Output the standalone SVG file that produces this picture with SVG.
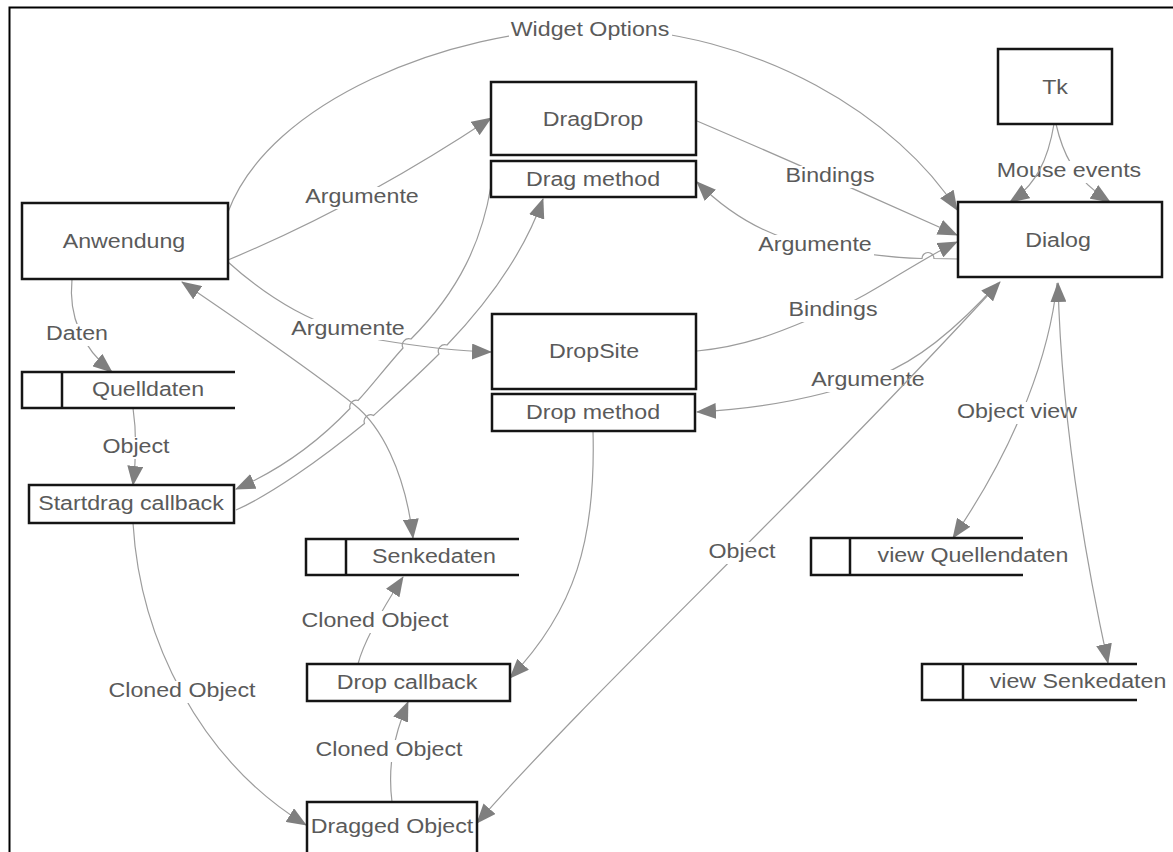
<svg xmlns="http://www.w3.org/2000/svg" width="1173" height="852" viewBox="0 0 1173 852">
<defs>
<marker id="ah" markerUnits="userSpaceOnUse" viewBox="0 0 20 16" markerWidth="20" markerHeight="16" refX="19" refY="8" orient="auto-start-reverse">
<path d="M0,0 L20,8 L0,16 z" fill="#7f7f7f"/>
</marker>
<style>
.c{fill:none;stroke:#9c9c9c;stroke-width:1.2}
.e{marker-end:url(#ah)}
.s{marker-start:url(#ah)}
.t{font-family:"Liberation Sans",Arial,sans-serif;font-size:19.5px;fill:#5a5a5a;text-anchor:middle}
.bg{fill:#fff}
.n{fill:#fff;stroke:#151515;stroke-width:2.5}
.ds{fill:none;stroke:#151515;stroke-width:2.5}
.fr{fill:none;stroke:#000;stroke-width:2}
</style>
</defs>
<rect width="1173" height="852" fill="#fff"/>
<path class="fr" d="M9.5,852 V7.5 H1173"/>

<g id="connectors">
<path class="c e" d="M228,212 C270,100 450,30 590,28 C760,28 900,120 957,210"/>
<rect class="bg" x="509" y="20" width="163" height="22"/>
<text class="t" transform="matrix(1.19 0 0 1 590 36)">Widget Options</text>

<path class="c e" d="M228,260 Q360,205 491,118"/>
<rect class="bg" x="303" y="187" width="118" height="22"/>
<text class="t" transform="matrix(1.19 0 0 1 362 203)">Argumente</text>

<path class="c e" d="M228,262 C268,298 315,328 380,340 C410,345 450,351 491,352"/>
<rect class="bg" x="289" y="319" width="118" height="21"/>
<text class="t" transform="matrix(1.19 0 0 1 348 335)">Argumente</text>

<path class="c e" d="M72,279 C68,320 85,350 112,372"/>
<rect class="bg" x="44" y="324" width="66" height="22"/>
<text class="t" transform="matrix(1.19 0 0 1 77 340)">Daten</text>

<path class="c e" d="M133,408 C137,435 136,460 133,485"/>
<rect class="bg" x="100" y="437" width="72" height="22"/>
<text class="t" transform="matrix(1.19 0 0 1 136 453)">Object</text>

<path class="c s e" d="M182,282 C260,335 330,385 354,404.5 C380,425 405,470 413,538"/>

<path class="c e" d="M491,186 C482,240 460,290 411,339 A6.5,6.5 0 0 0 403,348 C385,368 370,388 358,400.5 A6.5,6.5 0 0 0 350,408.5 C320,440 280,470 236,489"/>
<path class="c s" d="M543,199 C525,250 490,300 447,345 A6.5,6.5 0 0 0 439,354 C415,378 385,405 373.5,415.5 A6.5,6.5 0 0 0 364.5,423.5 C320,460 270,495 236,510"/>

<path class="c e" d="M697,121 Q830,178 957,235"/>
<rect class="bg" x="783" y="166" width="94" height="22"/>
<text class="t" transform="matrix(1.19 0 0 1 830 182)">Bindings</text>

<path class="c e" d="M697,351 C760,345 800,322 833,310 C870,296 915,262 957,242"/>
<rect class="bg" x="786" y="300" width="94" height="22"/>
<text class="t" transform="matrix(1.19 0 0 1 833 316)">Bindings</text>

<path class="c e" d="M958,259 L934,258.5 A6,6 0 0 0 922,258.5 C890,258 850,252 815,246 C770,238 730,215 697,182"/>
<rect class="bg" x="756" y="235" width="118" height="21"/>
<text class="t" transform="matrix(1.19 0 0 1 815 251)">Argumente</text>

<path class="c e" d="M1056,124 C1062,150 1072,178 1110,202"/>
<rect class="bg" x="994" y="161" width="150" height="22"/>
<text class="t" transform="matrix(1.19 0 0 1 1069 177)">Mouse events</text>
<path class="c e" d="M1054,124 C1048,160 1036,185 1010,202"/>

<path class="c e" d="M998,283 C960,325 920,360 880,375 C830,395 770,408 697,412"/>
<rect class="bg" x="809" y="370" width="118" height="22"/>
<text class="t" transform="matrix(1.19 0 0 1 868 386)">Argumente</text>

<path class="c s e" d="M477,823 C595,688 800,500 1000,282"/>
<rect class="bg" x="706" y="542" width="72" height="22"/>
<text class="t" transform="matrix(1.19 0 0 1 742 558)">Object</text>

<path class="c e" d="M1057,283 C1050,350 1020,440 953,538"/>
<rect class="bg" x="955" y="402" width="124" height="22"/>
<text class="t" transform="matrix(1.19 0 0 1 1017 418)">Object view</text>

<path class="c s e" d="M1058,283 Q1062,450 1108,663"/>

<path class="c e" d="M358,664 C364,640 385,605 403,577"/>
<rect class="bg" x="300" y="611" width="151" height="22"/>
<text class="t" transform="matrix(1.19 0 0 1 375 627)">Cloned Object</text>

<path class="c e" d="M392,802 C388,770 392,740 408,702"/>
<rect class="bg" x="314" y="740" width="151" height="22"/>
<text class="t" transform="matrix(1.19 0 0 1 389 756)">Cloned Object</text>

<path class="c e" d="M133,523 C140,640 200,760 306,825"/>
<rect class="bg" x="107" y="681" width="151" height="22"/>
<text class="t" transform="matrix(1.19 0 0 1 182 697)">Cloned Object</text>

<path class="c e" d="M593,431 C596,540 575,610 510,678"/>
</g>

<g id="anwendung"><rect class="n" x="22" y="203" width="206" height="76"/><text class="t" transform="matrix(1.19 0 0 1 124 248)">Anwendung</text></g>
<g id="dragdrop"><rect class="n" x="491" y="82" width="205" height="73"/><text class="t" transform="matrix(1.19 0 0 1 593 126)">DragDrop</text></g>
<g id="dragmethod"><rect class="n" x="491" y="161" width="205" height="36"/><text class="t" transform="matrix(1.19 0 0 1 593 186)">Drag method</text></g>
<g id="tk"><rect class="n" x="998" y="49" width="114" height="75"/><text class="t" transform="matrix(1.19 0 0 1 1055 94)">Tk</text></g>
<g id="dialog"><rect class="n" x="958" y="202" width="204" height="75"/><text class="t" transform="matrix(1.19 0 0 1 1058 247)">Dialog</text></g>
<g id="dropsite"><rect class="n" x="492" y="314" width="204" height="75"/><text class="t" transform="matrix(1.19 0 0 1 594 358)">DropSite</text></g>
<g id="dropmethod"><rect class="n" x="492" y="394" width="203" height="37"/><text class="t" transform="matrix(1.19 0 0 1 593 419)">Drop method</text></g>
<g id="quelldaten"><path class="ds" d="M235,372 H22 V408 H235 M62,372 V408"/><text class="t" transform="matrix(1.19 0 0 1 148 396)">Quelldaten</text></g>
<g id="startdrag"><rect class="n" x="29" y="485" width="205" height="38"/><text class="t" transform="matrix(1.19 0 0 1 131 510)">Startdrag callback</text></g>
<g id="senkedaten"><path class="ds" d="M519,539 H306 V575 H519 M346,539 V575"/><text class="t" transform="matrix(1.19 0 0 1 434 563)">Senkedaten</text></g>
<g id="dropcallback"><rect class="n" x="307" y="664" width="203" height="37"/><text class="t" transform="matrix(1.19 0 0 1 407 689)">Drop callback</text></g>
<g id="draggedobject"><rect class="n" x="307" y="802" width="170" height="56"/><text class="t" transform="matrix(1.19 0 0 1 392 833)">Dragged Object</text></g>
<g id="viewquellendaten"><path class="ds" d="M1023,538 H811 V575 H1023 M850,538 V575"/><text class="t" transform="matrix(1.19 0 0 1 973 562)">view Quellendaten</text></g>
<g id="viewsenkedaten"><path class="ds" d="M1137,664 H922 V700 H1137 M963,664 V700"/><text class="t" transform="matrix(1.19 0 0 1 1078 688)">view Senkedaten</text></g>
</svg>
